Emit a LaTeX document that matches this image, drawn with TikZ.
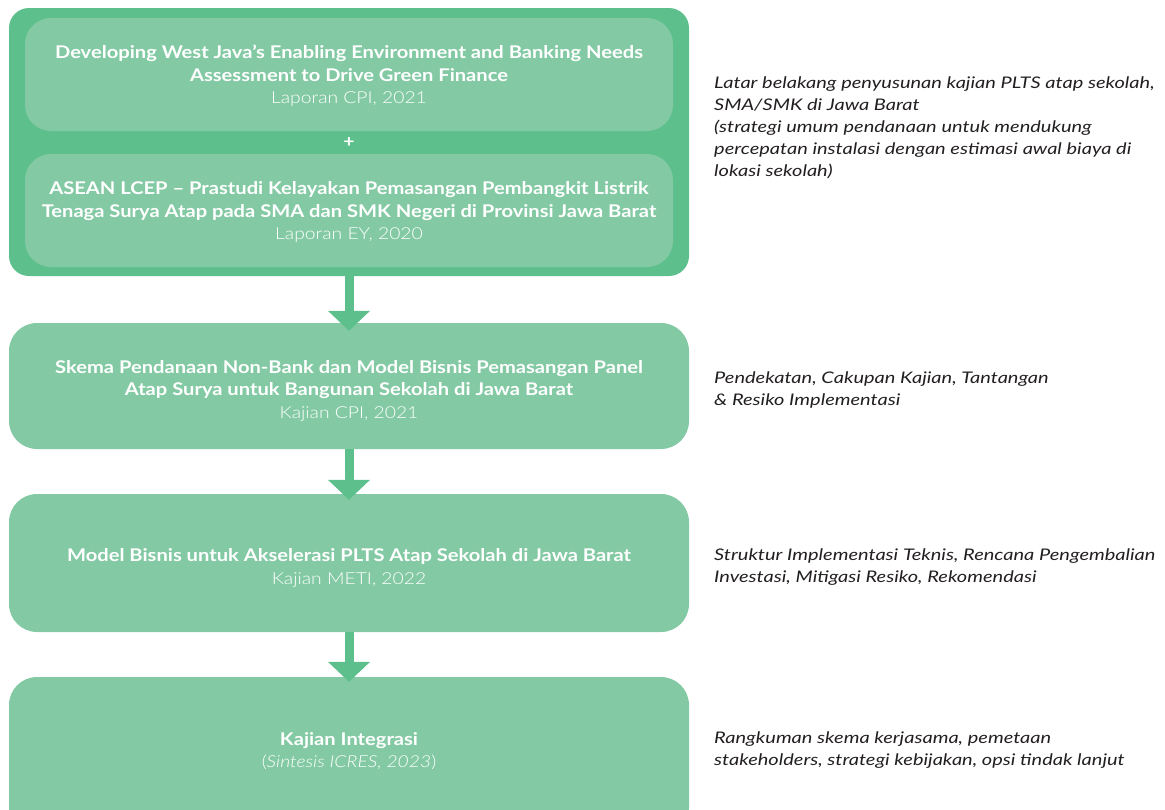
\documentclass[tikz,border=0pt]{standalone}
\usepackage{fontspec}
\setmainfont{Lato}
\newfontfamily\boldw[FakeStretch=1.15]{Lato Bold}
\newfontfamily\lightw[FakeStretch=1.17]{Lato Light}
\newfontfamily\lightwi[FakeStretch=1.17]{Lato Light Italic}
\newfontfamily\sidew[FakeStretch=1.25]{Lato Italic}
\newcommand{\bt}{\fontsize{17.5}{22.5}\boldw}
\newcommand{\lt}{\fontsize{16.5}{22.5}\lightw}
\usetikzlibrary{arrows.meta}
\definecolor{darkg}{HTML}{5CBF8C}
\definecolor{lightg}{HTML}{83CAA4}
\definecolor{txt}{HTML}{231F20}
\tikzset{
  box/.style={fill=lightg, draw=none, rounded corners=28pt, minimum width=680pt, inner sep=0pt},
  innerbox/.style={fill=lightg, draw=none, rounded corners=26pt, minimum width=648pt, minimum height=113pt, inner sep=0pt},
  lbl/.style={text=white, align=center, inner sep=0pt, font=\bt},
  side/.style={anchor=west, align=left, text=txt, font=\fontsize{16}{22}\sidew, inner sep=0pt},
  flow/.style={draw=darkg, line width=9pt, -{Triangle[width=41pt,length=20pt]}}
}
\begin{document}
\begin{tikzpicture}[x=1pt,y=-1pt]
\useasboundingbox (0,0) rectangle (1165,809);
\clip (0,0) rectangle (1165,809);
\node[fill=darkg, rounded corners=20pt, minimum width=680pt, minimum height=268pt, inner sep=0pt] (outer) at (349,142) {};
\node[innerbox] (b1) at (349,74.5) {};
\node[lbl] (t1) at (349,76) {Developing West Java’s Enabling Environment and Banking Needs\\Assessment to Drive Green Finance\\\lt Laporan CPI, 2021};
\node[text=white, font=\fontsize{17}{17}\boldw, inner sep=0pt] (plus) at (349,143) {+};
\node[innerbox] (b2) at (349,210.5) {};
\node[lbl] (t2) at (349,212) {ASEAN LCEP – Prastudi Kelayakan Pemasangan Pembangkit Listrik\\Tenaga Surya Atap pada SMA dan SMK Negeri di Provinsi Jawa Barat\\\lt Laporan EY, 2020};
\node[box, minimum height=126pt] (b3) at (349,386) {};
\node[lbl] (t3) at (349,391) {Skema Pendanaan Non-Bank dan Model Bisnis Pemasangan Panel\\Atap Surya untuk Bangunan Sekolah di Jawa Barat\\\lt Kajian CPI, 2021};
\node[box, minimum height=138pt] (b4) at (349,563) {};
\node[lbl] (t4) at (349,568) {Model Bisnis untuk Akselerasi PLTS Atap Sekolah di Jawa Barat\\\lt Kajian METI, 2022};
\node[box, minimum height=160pt] (b5) at (349,757) {};
\node[lbl] (t5) at (349,751) {Kajian Integrasi\\\lt (\lightwi Sintesis ICRES, 2023\lightw)};
\draw[flow] (outer.south) -- ([yshift=-8pt]b3.north);
\draw[flow] (b3.south) -- ([yshift=-6pt]b4.north);
\draw[flow] (b4.south) -- ([yshift=-5pt]b5.north);
\node[side] (s1) at (714,128) {Latar belakang penyusunan kajian PLTS atap sekolah,\\SMA/SMK di Jawa Barat\\(strategi umum pendanaan untuk mendukung\\percepatan instalasi dengan estimasi awal biaya di\\lokasi sekolah)};
\node[side] (s2) at (714,390) {Pendekatan, Cakupan Kajian, Tantangan\\\& Resiko Implementasi};
\node[side] (s3) at (714,567) {Struktur Implementasi Teknis, Rencana Pengembalian\\Investasi, Mitigasi Resiko, Rekomendasi};
\node[side] (s4) at (714,750) {Rangkuman skema kerjasama, pemetaan\\stakeholders, strategi kebijakan, opsi tindak lanjut};
\end{tikzpicture}
\end{document}
